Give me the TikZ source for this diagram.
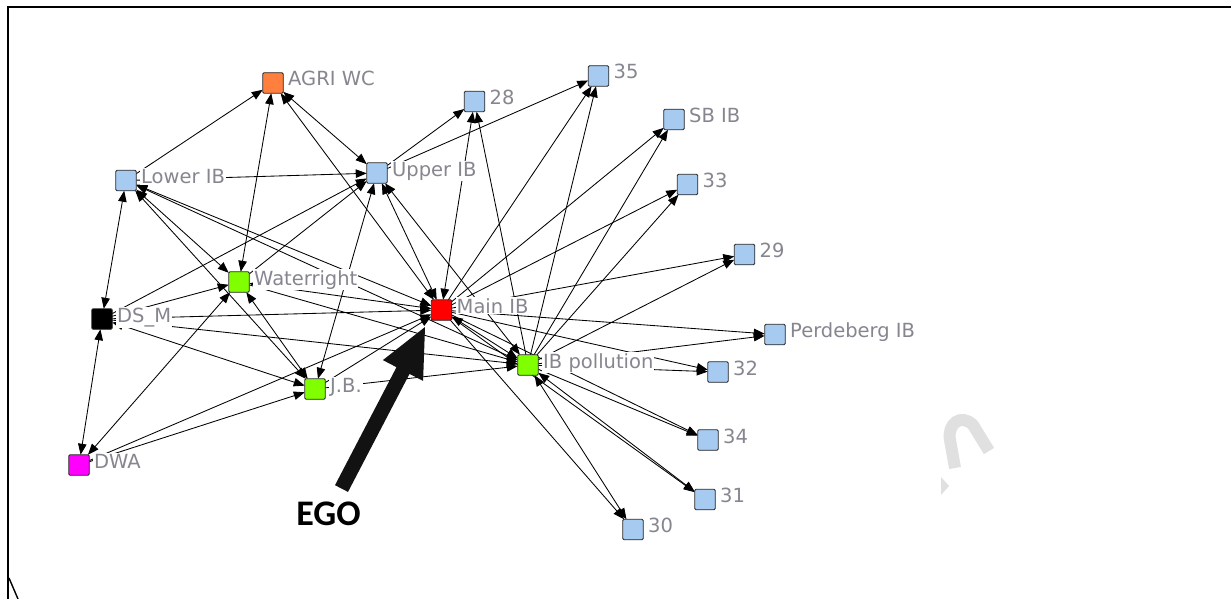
\documentclass[tikz,border=0pt]{standalone}
\usepackage{fontspec}
\setmainfont{DejaVu Sans}
\newfontfamily\egofont{Carlito}
\usetikzlibrary{arrows.meta}
\definecolor{actorblue}{RGB}{166,202,240}
\definecolor{actororange}{RGB}{255,127,63}
\definecolor{actorgreen}{RGB}{128,255,0}
\definecolor{actormagenta}{RGB}{255,0,255}
\definecolor{labelgray}{RGB}{134,134,144}
\definecolor{markgray}{RGB}{224,224,224}
\pgfdeclarelayer{edgelayer}
\pgfdeclarelayer{taglayer}
\pgfsetlayers{edgelayer,taglayer,main}
\begin{document}
\begin{tikzpicture}[x=1pt,y=-1pt,
  actor/.style={draw=black!85, line width=0.9pt, rounded corners=1.2pt,
    minimum size=20.5pt, inner sep=0pt, outer sep=0pt, fill=#1},
  tag/.style={anchor=base west, fill=white, inner xsep=1pt, inner ysep=1pt,
    text=labelgray, font=\fontsize{19.5}{19.5}\selectfont},
  tie/.style={line width=0.85pt, -{Triangle[length=11pt,width=8.5pt]}},
  mutual/.style={line width=0.85pt,
    {Triangle[length=11pt,width=8.5pt]}-{Triangle[length=11pt,width=8.5pt]}},
]
\useasboundingbox (0,0) rectangle (1231,599);

% page frame
\draw[line width=2pt] (8,599) -- (8,7) -- (1231,7);
\draw[line width=1.4pt] (9,578) -- (18,599);

% faint watermark stroke
\draw[markgray, line width=12pt] (955,468) -- (950,440)
  .. controls (947,424) and (961,413) .. (973,425) -- (989,451);
\fill[markgray] (941,477) -- (949,486) -- (941,495) -- cycle;

% actors
\node[actor=actororange] (A)   at (273,83)    {};
\node[actor=actorblue]   (L)   at (126,180.5) {};
\node[actor=actorblue]   (U)   at (377,173)   {};
\node[actor=actorblue]   (n28) at (474.5,101.5) {};
\node[actor=actorblue]   (n35) at (598.5,76)  {};
\node[actor=actorblue]   (SB)  at (674,119.5) {};
\node[actor=actorblue]   (n33) at (687.5,184.5) {};
\node[actor=actorblue]   (n29) at (744.5,254.5) {};
\node[actor=actorgreen]  (W)   at (239,282)   {};
\node[actor=red]         (M)   at (441.5,310) {};
\node[actor=black]       (D)   at (102,319)   {};
\node[actor=actorblue]   (P)   at (775,334.5) {};
\node[actor=actorgreen]  (IP)  at (528,365)   {};
\node[actor=actorblue]   (n32) at (718,372)   {};
\node[actor=actorgreen]  (J)   at (315,389)   {};
\node[actor=actorblue]   (n34) at (708,440)   {};
\node[actor=actorblue]   (n31) at (705,499.5) {};
\node[actor=actorblue]   (n30) at (633,529.5) {};
\node[actor=actormagenta] (DWA) at (79,465)   {};

% ties
\begin{pgfonlayer}{edgelayer}
\draw[tie]    (L) -- (A);
\draw[mutual] (W) -- (A);
\draw[mutual] (U) -- (A);
\draw[mutual] (M) -- (A);
\draw[tie]    (L) -- (U);
\draw[mutual] (L) -- (D);
\draw[mutual] (L) -- (W);
\draw[mutual] (L) -- (J);
\draw[mutual] (L) -- (M);
\draw[mutual] (L) -- (IP);
\draw[tie]    (U) -- (n28);
\draw[tie]    (U) -- (n35);
\draw[tie]    (D) -- (U);
\draw[tie]    (W) -- (U);
\draw[mutual] (U) -- (J);
\draw[mutual] (U) -- (M);
\draw[mutual] (U) -- (IP);
\draw[mutual] (M) -- (n28);
\draw[tie]    (IP) -- (n28);
\draw[tie]    (M) -- (n35);
\draw[tie]    (IP) -- (n35);
\draw[tie]    (M) -- (SB);
\draw[tie]    (IP) -- (SB);
\draw[tie]    (M) -- (n33);
\draw[tie]    (IP) -- (n33);
\draw[tie]    (M) -- (n29);
\draw[tie]    (IP) -- (n29);
\draw[tie]    (M) -- (P);
\draw[tie]    (IP) -- (P);
\draw[tie]    (M) -- (n32);
\draw[tie]    (IP) -- (n32);
\draw[tie]    (M) -- (n34);
\draw[tie]    (IP) -- (n34);
\draw[tie]    (M) -- (n31);
\draw[mutual] (IP) -- (n31);
\draw[tie]    (M) -- (n30);
\draw[mutual] (IP) -- (n30);
\draw[mutual] (M) -- (W);
\draw[tie]    (W) -- (IP);
\draw[tie]    (D) -- (M);
\draw[mutual] (D) -- (J);
\draw[tie]    (D) -- (IP);
\draw[tie]    (D) -- (W);
\draw[tie]    (J) -- (M);
\draw[tie]    (J) -- (IP);
\draw[tie]    (DWA) -- (M);
\draw[tie]    (DWA) -- (J);
\draw[mutual] (DWA) -- (D);
\draw[mutual] (DWA) -- (W);
\draw[mutual] (W) -- (J);
\draw[mutual] (M) -- (IP);
\end{pgfonlayer}

% actor names
\begin{pgfonlayer}{taglayer}
\path (A)   ++(14,3) node[tag] (tA)   {AGRI WC};
\path (L)   ++(14,3) node[tag] (tL)   {Lower IB};
\path (U)   ++(14,3) node[tag] (tU)   {Upper IB};
\path (n28) ++(14,3) node[tag] (t28)  {28};
\path (n35) ++(14,3) node[tag] (t35)  {35};
\path (SB)  ++(14,3) node[tag] (tSB)  {SB IB};
\path (n33) ++(14,3) node[tag] (t33)  {33};
\path (n29) ++(14,3) node[tag] (t29)  {29};
\path (W)   ++(14,3) node[tag] (tW)   {Waterright};
\path (M)   ++(14,3) node[tag] (tM)   {Main IB};
\path (D)   ++(14,3) node[tag] (tD)   {DS\_M};
\path (P)   ++(14,3) node[tag] (tP)   {Perdeberg IB};
\path (IP)  ++(14,3) node[tag] (tIP)  {IB pollution};
\path (n32) ++(14,3) node[tag] (t32)  {32};
\path (J)   ++(14,3) node[tag] (tJ)   {J.B.};
\path (n34) ++(14,3) node[tag] (t34)  {34};
\path (n31) ++(14,3) node[tag] (t31)  {31};
\path (n30) ++(14,3) node[tag] (t30)  {30};
\path (DWA) ++(14,3) node[tag] (tDWA) {DWA};
\end{pgfonlayer}

% pointer to the ego actor
\fill[black!93] (335,485.2) -- (348,491.9) -- (409.5,373.9) -- (423.1,380.9)
  -- (425,327) -- (382.9,360.1) -- (396.5,367.2) -- cycle;
\node[font=\egofont\bfseries\fontsize{36}{36}\selectfont, anchor=base, inner sep=0pt]
  (ego) at (328.5,525) {EGO};
\end{tikzpicture}
\end{document}
